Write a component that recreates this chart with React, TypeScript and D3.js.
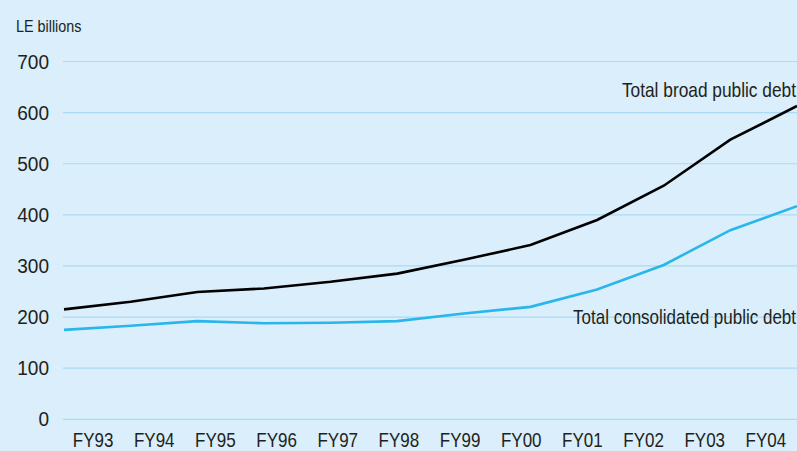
import React from "react";
import * as d3 from "d3";

const categories = ["FY93", "FY94", "FY95", "FY96", "FY97", "FY98", "FY99", "FY00", "FY01", "FY02", "FY03", "FY04"];
const broadDebt = [215, 230, 249, 256, 269, 285, 312, 341, 390, 457, 547, 613];
const consolidatedDebt = [175, 183, 192, 188, 189, 192, 207, 220, 254, 302, 370, 417];
const yTicks = [0, 100, 200, 300, 400, 500, 600, 700];

const W = 797;
const H = 451;
const left = 63;
const right = 797;
const FONT = "'Liberation Sans', Arial, sans-serif";
const TEXT = "#231f20";

function T({ x, y, sx = 0.86, size, anchor = "start", children }: any) {
  return (
    <text transform={`translate(${x},${y}) scale(${sx},1)`} textAnchor={anchor} fontSize={size} fill={TEXT}>
      {children}
    </text>
  );
}

export default function App() {
  const y = d3.scaleLinear().domain([0, 700]).range([419.3, 61.5]);
  const xPt = d3.scalePoint<string>().domain(categories).range([left + 1, right]);
  const xBand = d3.scaleBand<string>().domain(categories).range([left - 0.5, right - 0.5]);
  const line = d3
    .line<number>()
    .x((_, i) => xPt(categories[i]) as number)
    .y((d) => y(d));

  return (
    <svg width={W} height={H} style={{ position: "absolute", left: 0, top: 0 }} fontFamily={FONT}>
      <rect x={0} y={0} width={W} height={H} fill="#daeefb" />
      {yTicks.map((t) => (
        <g key={t}>
          <line x1={left} x2={right} y1={y(t)} y2={y(t)} stroke="#aadaf4" strokeWidth={1.2} />
          <T x={49} y={y(t) + 7} sx={0.93} anchor="end" size={20.5}>
            {t}
          </T>
        </g>
      ))}
      <T x={16} y={32} sx={0.87} size={16.5}>
        LE billions
      </T>
      {categories.map((c) => (
        <T key={c} x={(xBand(c) as number) + xBand.bandwidth() / 2} y={447} anchor="middle" sx={0.85} size={20}>
          {c}
        </T>
      ))}
      <path d={line(consolidatedDebt) || ""} fill="none" stroke="#29b6ea" strokeWidth={2.6} />
      <path d={line(broadDebt) || ""} fill="none" stroke="#000000" strokeWidth={2.6} />
      <T x={796} y={97} anchor="end" sx={0.866} size={20}>
        Total broad public debt
      </T>
      <T x={796} y={324} anchor="end" sx={0.85} size={20}>
        Total consolidated public debt
      </T>
    </svg>
  );
}
